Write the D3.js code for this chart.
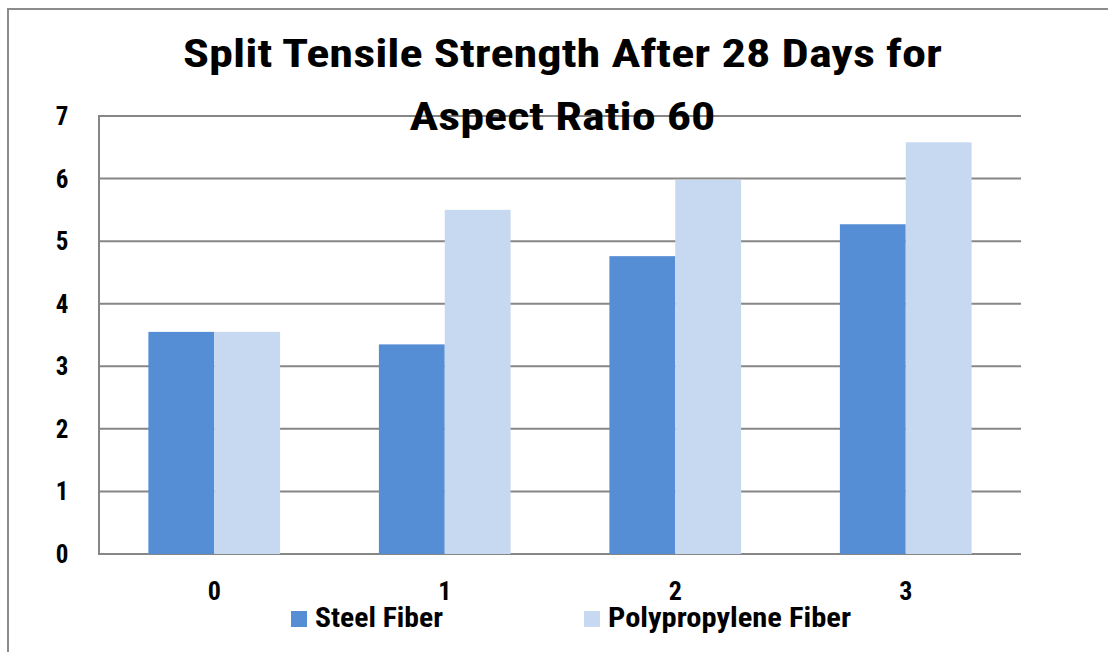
<!DOCTYPE html>
<html>
<head>
<meta charset="utf-8">
<script src="https://cdn.jsdelivr.net/npm/d3@7"></script>
<style>
  html, body { margin: 0; padding: 0; background: #fff; }
  svg { display: block; }
  text { font-family: "Liberation Sans Narrow", "Arial Narrow", "Roboto Condensed", "Roboto", "Liberation Sans", sans-serif; font-weight: bold; fill: #000; }
</style>
</head>
<body>
<svg id="chart" width="1108" height="652"></svg>
<script>
const categories = ["0", "1", "2", "3"];
const seriesNames = ["Steel Fiber", "Polypropylene Fiber"];
const steelFiber = [3.55, 3.35, 4.76, 5.27];
const polypropyleneFiber = [3.55, 5.50, 5.98, 6.58];
const yTicks = [0, 1, 2, 3, 4, 5, 6, 7];
const titleLines = ["Split Tensile Strength After 28 Days for", "Aspect Ratio 60"];
const colors = ["#558ED5", "#C6D9F1"];

const seriesValues = [steelFiber, polypropyleneFiber];
const svg = d3.select("#chart");
const W = 1108, H = 652;
const plot = { left: 99, right: 1021, top: 116, bottom: 554 };

// outer border (top + left visible)
svg.append("rect")
  .attr("x", 8).attr("y", 9)
  .attr("width", W + 20).attr("height", H + 20)
  .attr("fill", "#fff").attr("stroke", "#8c8c8c").attr("stroke-width", 2);

const y = d3.scaleLinear().domain([0, 7]).range([plot.bottom, plot.top]);
const x0 = d3.scaleBand().domain(categories).range([plot.left, plot.right])
  .paddingInner(1.5 / 3.5).paddingOuter(0.75 / 3.5);
const x1 = d3.scaleBand().domain(seriesNames).range([0, x0.bandwidth()]).padding(0);

// gridlines
svg.append("g").selectAll("line").data(yTicks).join("line")
  .attr("x1", plot.left).attr("x2", plot.right)
  .attr("y1", d => y(d)).attr("y2", d => y(d))
  .attr("stroke", "#868686").attr("stroke-width", 2);

// left axis line
svg.append("line")
  .attr("x1", plot.left).attr("x2", plot.left)
  .attr("y1", y(7) - 1).attr("y2", y(0) + 1)
  .attr("stroke", "#868686").attr("stroke-width", 2);

// bars
const groups = svg.append("g").selectAll("g").data(categories).join("g")
  .attr("transform", d => `translate(${x0(d)},0)`);
groups.selectAll("rect")
  .data((c, i) => seriesNames.map((s, j) => ({ s, j, v: seriesValues[j][i] })))
  .join("rect")
  .attr("x", d => x1(d.s))
  .attr("width", x1.bandwidth())
  .attr("y", d => y(d.v))
  .attr("height", d => y(0) - y(d.v))
  .attr("fill", d => colors[d.j]);

// y tick labels
svg.append("g").selectAll("text").data(yTicks).join("text")
  .attr("x", 62).attr("y", d => y(d))
  .attr("dy", "0.36em")
  .attr("text-anchor", "middle")
  .attr("font-size", 25)
  .text(d => d);

// x labels
svg.append("g").selectAll("text").data(categories).join("text")
  .attr("x", d => x0(d) + x0.bandwidth() / 2)
  .attr("y", 600)
  .attr("text-anchor", "middle")
  .attr("font-size", 26)
  .text(d => d);

// title
const titleY = [67, 130];
const titleW = [759, 306];
svg.append("g").selectAll("text").data(titleLines).join("text")
  .attr("x", 562.5).attr("y", (d, i) => titleY[i])
  .attr("text-anchor", "middle")
  .attr("font-size", 38)
  .attr("textLength", (d, i) => titleW[i])
  .attr("lengthAdjust", "spacingAndGlyphs")
  .text(d => d);

// legend
const legX = [291, 584];
const legTextW = [128, 243];
const leg = svg.append("g").selectAll("g").data(seriesNames).join("g")
  .attr("transform", (d, i) => `translate(${legX[i]},611)`);
leg.append("rect").attr("width", 16).attr("height", 16).attr("fill", (d, i) => colors[i]);
leg.append("text").attr("x", 24).attr("y", 16)
  .attr("font-size", 27)
  .attr("textLength", (d, i) => legTextW[i])
  .attr("lengthAdjust", "spacingAndGlyphs")
  .text(d => d);
</script>
</body>
</html>
